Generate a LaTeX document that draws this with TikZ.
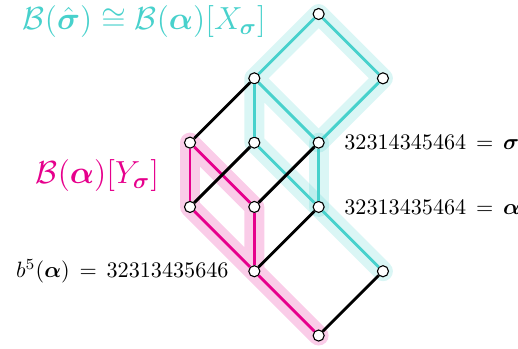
\documentclass[tikz,border=0pt]{standalone}
\usepackage{amsmath,amssymb}
\usetikzlibrary{positioning,backgrounds}
\definecolor{turq}{RGB}{72,209,204}
\definecolor{hotpink}{RGB}{230,0,140}

\begin{document}
\begin{tikzpicture}[x=1.02cm, y=1.02cm,
    vtx/.style={circle, draw=black, fill=white, line width=0.5pt, inner sep=0pt, minimum size=5pt},
    hl/.style={line width=9pt, line cap=round, line join=round, opacity=0.2},
    plain/.style={line width=1.3pt, draw=black},
    cyanedge/.style={line width=1.3pt, draw=turq},
    pinkedge/.style={line width=1.3pt, draw=hotpink},
    wordlab/.style={inner sep=1pt}
]
\useasboundingbox (-2.955,-0.202) rectangle (5.10,5.218);

% Vertices
\node[vtx] (a) at (2, 5) {};
\node[vtx] (b) at (1, 4) {};
\node[vtx] (c) at (3, 4) {};
\node[vtx] (d) at (0, 3) {};
\node[vtx] (e) at (1, 3) {};
\node[vtx] (f) at (2, 3) {};
\node[vtx] (g) at (0, 2) {};
\node[vtx] (h) at (1, 2) {};
\node[vtx] (i) at (2, 2) {};
\node[vtx] (j) at (1, 1) {};
\node[vtx] (k) at (3, 1) {};
\node[vtx] (l) at (2, 0) {};

% Highlights
\begin{pgfonlayer}{background}
\draw[hl, turq] (b.center) -- (a.center) -- (c.center) -- (f.center) -- (b.center) -- (e.center) -- (i.center) -- (k.center);
\draw[hl, turq] (f.center) -- (i.center);
\draw[hl, hotpink] (l.center) -- (j.center) -- (g.center) -- (d.center) -- (h.center) -- (j.center);
\end{pgfonlayer}

% Edges
\draw[cyanedge] (a) -- (b);
\draw[cyanedge] (a) -- (c);
\draw[cyanedge] (c) -- (f);
\draw[cyanedge] (b) -- (f);
\draw[cyanedge] (b) -- (e);
\draw[cyanedge] (e) -- (i);
\draw[cyanedge] (f) -- (i);
\draw[cyanedge] (i) -- (k);

\draw[pinkedge] (d) -- (g);
\draw[pinkedge] (d) -- (h);
\draw[pinkedge] (g) -- (j);
\draw[pinkedge] (h) -- (j);
\draw[pinkedge] (j) -- (l);

\draw[plain] (b) -- (d);
\draw[plain] (e) -- (g);
\draw[plain] (f) -- (h);
\draw[plain] (i) -- (j);
\draw[plain] (k) -- (l);

% Labels
\node[wordlab, right=2.7mm of f] (sigmalab) {$32314345464 \,=\, \boldsymbol{\sigma}$};
\node[wordlab, right=2.7mm of i] (alphalab) {$32313435464 \,=\, \boldsymbol{\alpha}$};
\node[wordlab, left=2.7mm of j] (bfivelab) {$b^5(\boldsymbol{\alpha}) \,=\, 32313435646$};
\node[wordlab, font=\Large, text=turq] (xlab) at (-0.71, 4.88) {$\mathcal{B}(\hat{\boldsymbol{\sigma}}) \cong \mathcal{B}(\boldsymbol{\alpha})[X_{\boldsymbol{\sigma}}]$};
\node[wordlab, font=\Large, text=hotpink] (ylab) at (-1.44, 2.49) {$\mathcal{B}(\boldsymbol{\alpha})[Y_{\boldsymbol{\sigma}}]$};

\end{tikzpicture}
\end{document}
